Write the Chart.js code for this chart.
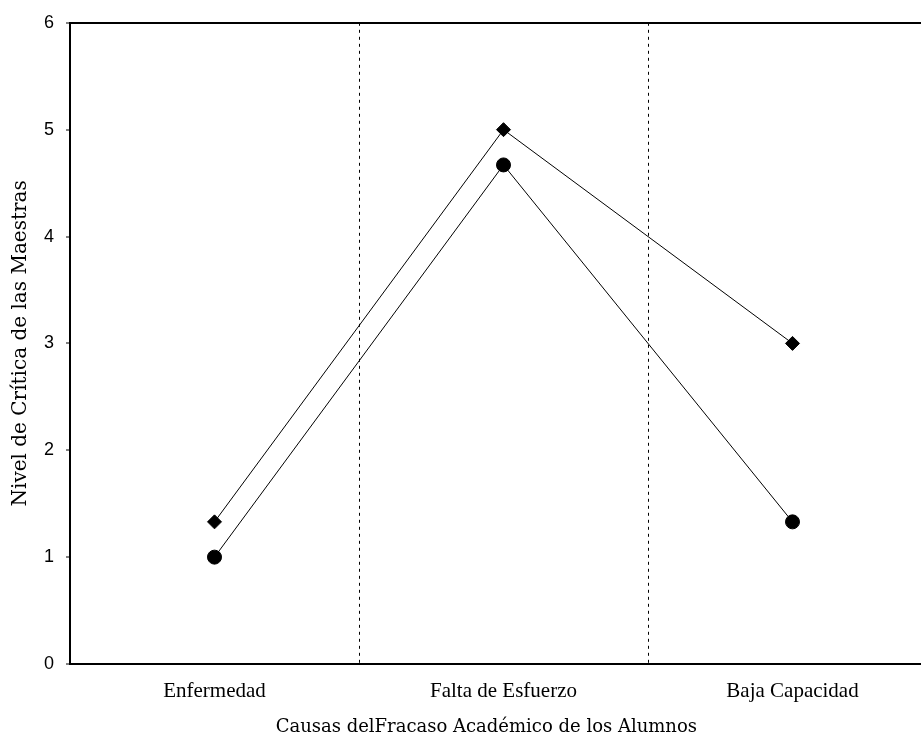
<!DOCTYPE html>
<html>
<head>
<meta charset="utf-8">
<script src="https://cdn.jsdelivr.net/npm/chart.js@4"></script>
<style>
    html, body { margin: 0; padding: 0; background: #fff; overflow: hidden; }
    #caja { width: 946px; height: 742px; }
</style>
</head>
<body>
<div id="caja"><canvas id="grafico"></canvas></div>
<script>
    // categorias y valores
    const causas = ["Enfermedad", "Falta de Esfuerzo", "Baja Capacidad"];
    const serieRombo = [1.33, 5, 3];
    const serieCirculo = [1, 4.67, 1.33];
    const ticksY = [0, 1, 2, 3, 4, 5, 6];

    const ctx = document.getElementById("grafico").getContext("2d");

    new Chart(ctx, {
        type: "line",
        data: {
            labels: causas,
            datasets: [
                {
                    label: "A",
                    data: serieRombo,
                    borderColor: "#000",
                    backgroundColor: "#000",
                    borderWidth: 1,
                    pointStyle: "rectRot",
                    pointRadius: 7,
                    tension: 0
                },
                {
                    label: "B",
                    data: serieCirculo,
                    borderColor: "#000",
                    backgroundColor: "#000",
                    borderWidth: 1,
                    pointStyle: "circle",
                    pointRadius: 7,
                    tension: 0
                }
            ]
        },
        options: {
            responsive: true,
            maintainAspectRatio: false,
            animation: false,
            layout: { padding: { top: 21, right: 9, left: 0, bottom: 0 } },
            plugins: {
                legend: { display: false },
                tooltip: { enabled: false }
            },
            scales: {
                x: {
                    offset: true,
                    afterFit: (s) => { s.height = 78; },
                    border: { display: true, color: "#000", width: 2, dash: [3, 4] },
                    grid: {
                        offset: true,
                        color: "#000",
                        lineWidth: 1,
                        drawTicks: false
                    },
                    ticks: {
                        color: "#000",
                        padding: 15,
                        font: { family: "Liberation Serif", size: 21 }
                    },
                    title: {
                        display: true,
                        // espacios al final para correr el titulo a la izquierda
                        text: "Causas delFracaso Académico de los Alumnos      ",
                        color: "#000",
                        padding: { top: 2 },
                        font: { family: "DejaVu Serif", size: 18 }
                    }
                },
                y: {
                    min: 0,
                    max: 6,
                    afterFit: (s) => { s.width = 70; },
                    afterBuildTicks: (s) => { s.ticks = ticksY.map(v => ({ value: v })); },
                    border: { display: true, color: "#000", width: 2 },
                    grid: {
                        color: (c) => c.tick && c.tick.value === 6 ? "#000" : "rgba(0,0,0,0)",
                        lineWidth: 2,
                        tickColor: "#000",
                        tickLength: 4,
                        tickWidth: 1
                    },
                    ticks: {
                        color: "#000",
                        padding: 12,
                        font: { family: "Liberation Sans", size: 18 }
                    },
                    title: {
                        display: true,
                        text: "Nivel de Crítica de las Maestras",
                        color: "#000",
                        padding: { top: 9, bottom: 0 },
                        font: { family: "DejaVu Serif", size: 20 }
                    }
                }
            }
        }
    });
</script>
</body>
</html>
